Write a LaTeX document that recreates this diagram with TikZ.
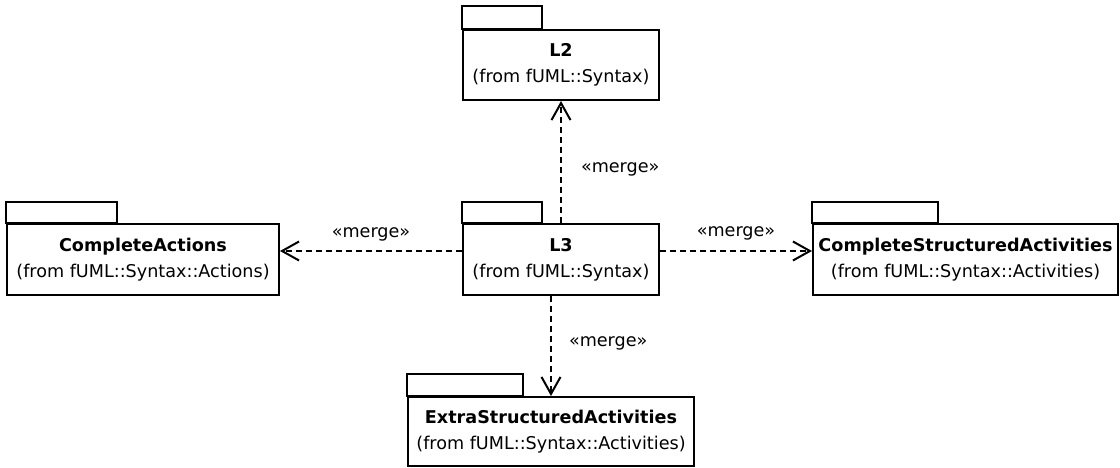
\documentclass[tikz,border=0pt]{standalone}
\usepackage{fontspec}
\setmainfont{DejaVu Sans}
\usetikzlibrary{arrows.meta,positioning,calc}

\tikzset{
  pkg/.style={draw, line width=2pt, align=center, minimum height=70pt, inner sep=0pt},
  tab/.style={draw, line width=2pt},
  merge/.style={draw, line width=2pt, dash pattern=on 6pt off 4pt,
    -{Straight Barb[length=17pt,width=19pt,line width=2pt]}},
  stereo/.style={inner sep=0pt}
}

\begin{document}
\begin{tikzpicture}[x=1pt,y=-1pt,font=\fontsize{17.6}{26}\selectfont]
\useasboundingbox (0,0) rectangle (1120,468);

% Packages
\node[pkg, minimum width=196pt] (l2) at (561,65) {\textbf{L2}\\(from fUML::Syntax)};
\node[pkg, minimum width=196pt, minimum height=71pt] (l3) at (561,259.5) {\textbf{L3}\\(from fUML::Syntax)};
\node[pkg, minimum width=272pt, minimum height=71pt] (ca) at (143,259.5) {\textbf{CompleteActions}\\(from fUML::Syntax::Actions)};
\node[pkg, minimum width=305pt, minimum height=71pt] (csa) at (965.5,259.5) {\textbf{CompleteStructuredActivities}\\(from fUML::Syntax::Activities)};
\node[pkg, minimum width=286pt, minimum height=69pt] (esa) at (551,431.5) {\textbf{ExtraStructuredActivities}\\(from fUML::Syntax::Activities)};

% Tabs
\draw[tab] (l2.north west) rectangle ++(80,-23);
\draw[tab] (l3.north west) rectangle ++(80,-21);
\draw[tab] (ca.north west) rectangle ++(111,-21);
\draw[tab] (csa.north west) rectangle ++(126,-21);
\draw[tab] (esa.north west) rectangle ++(116,-22);

% Merges
\draw[merge] (l3.north) -- (l2.south)
  node[stereo, midway, anchor=west, xshift=19pt, yshift=-7pt] {«merge»};
\draw[merge] ([yshift=8.5pt]l3.west) -- ([yshift=8.5pt]ca.east)
  node[stereo, midway, above=9pt] {«merge»};
\draw[merge] ([yshift=8.5pt]l3.east) -- ([yshift=8.5pt]csa.west)
  node[stereo, midway, above=10pt] {«merge»};
\draw[merge] (esa.north |- l3.south) -- (esa.north)
  node[stereo, midway, anchor=west, xshift=17pt, yshift=3pt] {«merge»};
\end{tikzpicture}
\end{document}
